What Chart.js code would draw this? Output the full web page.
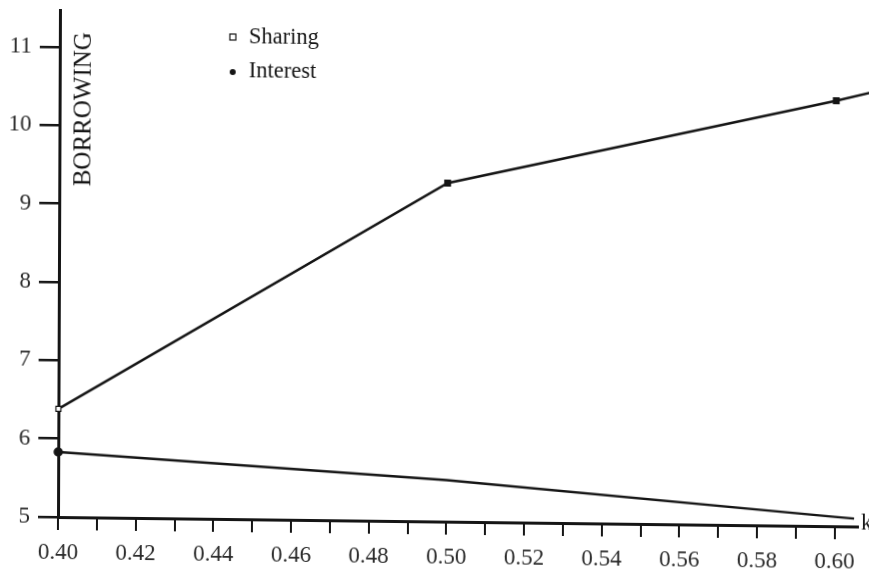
<!DOCTYPE html>
<html>
<head>
<meta charset="utf-8">
<script src="https://cdn.jsdelivr.net/npm/chart.js@4"></script>
<style>
  html, body { margin: 0; padding: 0; background: #fff; overflow: hidden; }
  canvas {
    display: block;
    /* slight slant of the printed plate */
    transform-origin: 58px 517px;
    transform: matrix(1, 0.0119, -0.0039, 1, 0, 0);
  }
</style>
</head>
<body>
<canvas id="c" width="869" height="577"></canvas>
<script>
// Borrowing against k for the two schemes
const sharingK = [0.40, 0.50, 0.60, 0.609];
const sharingBorrowing = [6.38, 9.32, 10.43, 10.54];
const interestK = [0.40, 0.50, 0.60, 0.605];
const interestBorrowing = [5.83, 5.53, 5.12, 5.10];

const xTickValues = [0.40, 0.41, 0.42, 0.43, 0.44, 0.45, 0.46, 0.47, 0.48, 0.49, 0.50,
                     0.51, 0.52, 0.53, 0.54, 0.55, 0.56, 0.57, 0.58, 0.59, 0.60];
const xTickLabels = ['0.40', '', '0.42', '', '0.44', '', '0.46', '', '0.48', '', '0.50',
                     '', '0.52', '', '0.54', '', '0.56', '', '0.58', '', '0.60'];
const yTickValues = [5, 6, 7, 8, 9, 10, 11];

const ink = '#151515';
const serif = '"Liberation Serif", "DejaVu Serif", serif';

const toPoints = (xs, ys) => xs.map((x, i) => ({ x: x, y: ys[i] }));

const annotations = {
  id: 'annotations',
  afterDraw(chart) {
    const ctx = chart.ctx;
    const area = chart.chartArea;
    ctx.save();
    ctx.fillStyle = ink;
    ctx.strokeStyle = ink;

    // Legend
    ctx.font = '22.5px ' + serif;
    ctx.textBaseline = 'middle';
    ctx.textAlign = 'left';
    ctx.lineWidth = 1.2;
    ctx.strokeRect(228, 32, 6, 6);
    ctx.fillText('Sharing', 247, 35);
    ctx.beginPath();
    ctx.arc(231, 70, 3, 0, Math.PI * 2);
    ctx.fill();
    ctx.fillText('Interest', 247, 69);

    // Vertical axis title inside the plot
    ctx.save();
    ctx.translate(area.left + 24, 109);
    ctx.rotate(-Math.PI / 2);
    ctx.textAlign = 'center';
    ctx.font = '25px ' + serif;
    ctx.fillText('BORROWING', 0, 0);
    ctx.restore();

    // Horizontal axis name at the end of the axis
    ctx.textAlign = 'left';
    ctx.font = '23px ' + serif;
    ctx.fillText('k', area.right + 3, area.bottom - 3);
    ctx.restore();
  }
};

new Chart(document.getElementById('c'), {
  type: 'line',
  data: {
    datasets: [
      {
        label: 'Sharing',
        data: toPoints(sharingK, sharingBorrowing),
        borderColor: ink,
        borderWidth: 2.4,
        pointStyle: 'rect',
        pointRadius: [3.5, 4, 4, 0],
        pointBorderWidth: 1.2,
        pointBorderColor: ink,
        pointBackgroundColor: ['#fff', ink, ink, ink],
        tension: 0,
        clip: false
      },
      {
        label: 'Interest',
        data: toPoints(interestK, interestBorrowing),
        borderColor: ink,
        borderWidth: 2.4,
        pointStyle: 'circle',
        pointRadius: [3.5, 0, 0, 0],
        pointBorderColor: ink,
        pointBackgroundColor: ink,
        tension: 0,
        clip: false
      }
    ]
  },
  options: {
    responsive: false,
    animation: false,
    devicePixelRatio: 1,
    layout: { padding: { top: 10, right: 11, left: 0, bottom: 0 } },
    plugins: { legend: { display: false }, tooltip: { enabled: false } },
    scales: {
      x: {
        type: 'linear',
        min: 0.40,
        max: 0.606,
        afterFit(scale) { scale.height = 60; scale.paddingRight = 0; scale.paddingLeft = 0; },
        afterBuildTicks(scale) { scale.ticks = xTickValues.map(v => ({ value: v })); },
        border: { display: true, color: ink, width: 3 },
        grid: { drawOnChartArea: false, drawTicks: true, tickLength: 13, color: ink, lineWidth: 2 },
        ticks: {
          autoSkip: false,
          maxRotation: 0,
          padding: 9,
          color: '#2a2a2a',
          font: { family: serif, size: 23 },
          callback: (v, i) => xTickLabels[i]
        }
      },
      y: {
        type: 'linear',
        min: 5,
        max: 11.47,
        afterFit(scale) { scale.width = 58; scale.paddingTop = 0; scale.paddingBottom = 0; },
        afterBuildTicks(scale) { scale.ticks = yTickValues.map(v => ({ value: v })); },
        border: { display: true, color: ink, width: 3 },
        grid: { drawOnChartArea: false, drawTicks: true, tickLength: 20, color: ink, lineWidth: 2.5 },
        ticks: {
          padding: 8,
          color: '#2a2a2a',
          font: { family: serif, size: 23 },
          callback: v => String(v)
        }
      }
    }
  },
  plugins: [annotations]
});
</script>
</body>
</html>
